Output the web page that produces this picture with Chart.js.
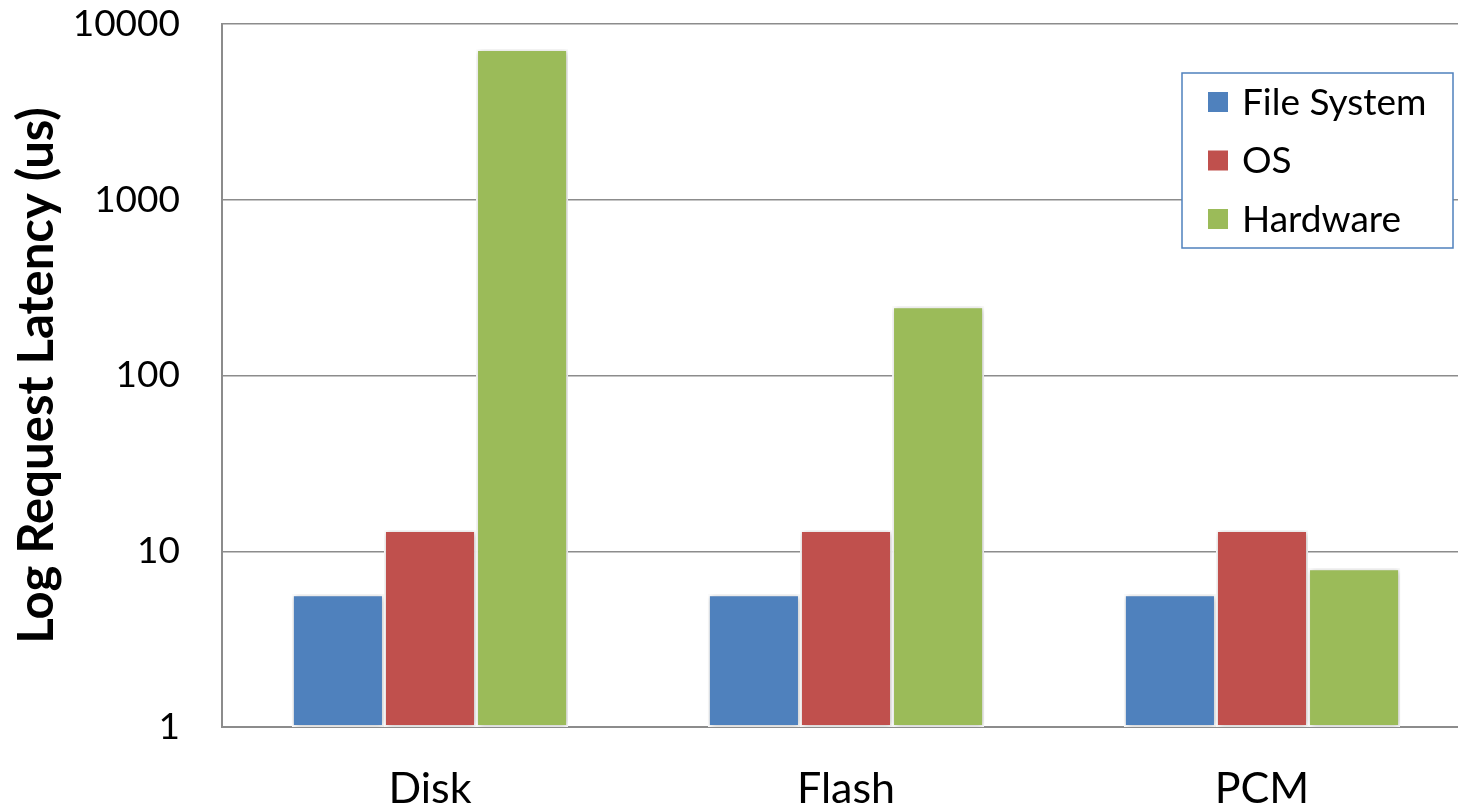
<!DOCTYPE html>
<html>
<head>
<meta charset="utf-8">
<script src="https://cdn.jsdelivr.net/npm/chart.js@4.4.1/dist/chart.umd.min.js"></script>
<style>
  html, body { margin: 0; padding: 0; background: #fff; overflow: hidden; }
  #wrap { width: 1472px; height: 810px; position: relative; }
</style>
</head>
<body>
<div id="wrap"><canvas id="chart"></canvas></div>
<script>
// Latency breakdown per storage device (microseconds, log scale)
const categories = ['Disk', 'Flash', 'PCM'];
const fileSystem = [5.7, 5.7, 5.7];
const osLatency = [13.2, 13.2, 13.2];
const hardware = [7200, 248, 8.0];
const yTicks = [1, 10, 100, 1000, 10000];
const seriesNames = ['File System', 'OS', 'Hardware'];
const seriesColors = ['#4f81bd', '#c0504d', '#9bbb59'];

const FONT = 'Lato, "Open Sans", sans-serif';

// Soft drop shadow under the bars
const barShadow = {
  id: 'barShadow',
  beforeDatasetsDraw(chart) {
    const ctx = chart.ctx;
    ctx.save();
    ctx.shadowColor = 'rgba(0,0,0,0.25)';
    ctx.shadowBlur = 6;
    ctx.shadowOffsetX = 1;
    ctx.shadowOffsetY = 1;
  },
  afterDatasetsDraw(chart) {
    chart.ctx.restore();
  }
};

// Boxed legend drawn inside the plot, top right
const boxLegend = {
  id: 'boxLegend',
  afterDraw(chart) {
    const ctx = chart.ctx;
    const x = 1182, y = 73, w = 271, h = 175;
    ctx.save();
    ctx.fillStyle = '#ffffff';
    ctx.fillRect(x, y, w, h);
    ctx.strokeStyle = '#4f81bd';
    ctx.lineWidth = 1.5;
    ctx.strokeRect(x, y, w, h);
    ctx.font = '37px ' + FONT;
    ctx.textBaseline = 'middle';
    ctx.textAlign = 'left';
    chart.data.datasets.forEach((ds, i) => {
      const cy = 102 + i * 58.5;
      ctx.fillStyle = ds.backgroundColor;
      ctx.fillRect(1208, cy - 10, 20, 20);
      ctx.fillStyle = '#000';
      ctx.fillText(ds.label, 1242, cy + 1);
    });
    ctx.restore();
  }
};

new Chart(document.getElementById('chart'), {
  type: 'bar',
  data: {
    labels: categories,
    datasets: [
      { label: seriesNames[0], data: fileSystem, backgroundColor: seriesColors[0] },
      { label: seriesNames[1], data: osLatency, backgroundColor: seriesColors[1] },
      { label: seriesNames[2], data: hardware, backgroundColor: seriesColors[2] }
    ].map(d => Object.assign(d, { borderColor: '#ffffff', borderWidth: 2, borderSkipped: false }))
  },
  options: {
    responsive: true,
    maintainAspectRatio: false,
    animation: false,
    layout: { padding: { top: 24, right: 2, left: 0, bottom: 0 } },
    datasets: { bar: { barPercentage: 1.0, categoryPercentage: 0.664 } },
    plugins: {
      legend: { display: false },
      tooltip: { enabled: false }
    },
    scales: {
      x: {
        grid: { display: false, drawTicks: false },
        border: { display: true, color: '#8c8c8c', width: 2 },
        ticks: { color: '#000', font: { family: FONT, size: 43 }, padding: 36 },
        afterFit(scale) { scale.height = 83; }
      },
      y: {
        type: 'logarithmic',
        min: 1,
        max: 10000,
        afterBuildTicks(scale) { scale.ticks = yTicks.map(v => ({ value: v })); },
        grid: { color: '#8c8c8c', lineWidth: 1.5, drawTicks: false },
        border: { display: true, color: '#8c8c8c', width: 2 },
        ticks: {
          color: '#000',
          font: { family: FONT, size: 37 },
          padding: 42,
          callback: v => String(v)
        },
        title: {
          display: true,
          text: 'Log Request Latency (us)',
          color: '#000',
          font: { family: FONT, size: 49, weight: 'bold' },
          padding: { top: 8, bottom: 0 }
        },
        afterFit(scale) {
          scale.width = 222;
          scale.paddingTop = 0;
          scale.paddingBottom = 0;
        }
      }
    }
  },
  plugins: [barShadow, boxLegend]
});
</script>
</body>
</html>
